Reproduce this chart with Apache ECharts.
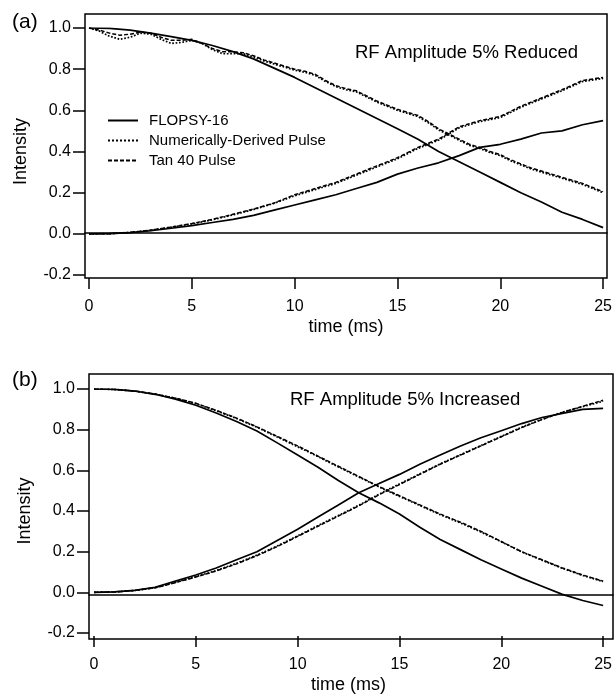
<!DOCTYPE html>
<html>
<head>
<meta charset="utf-8">
<script src="https://cdn.jsdelivr.net/npm/echarts@6/dist/echarts.min.js"></script>
<style>html,body{margin:0;padding:0;background:#fff}#c{width:615px;height:695px}</style>
</head>
<body>
<div id="c"></div>
<script>
// time axes (ms)
const t1 = [0,1,2,3,4,5,6,7,8,9,10,11,12,13,14,15,16,17,18,19,20,21,22,23,24,25];
const tHalf = [0,0.5,1,1.5,2,2.5,3,3.5,4,4.5,5,5.5,6,6.5,7,7.5,8,8.5,9,9.5,10,10.5,11,11.5,12,12.5,13,13.5,14,14.5,15,15.5,16,16.5,17,17.5,18,18.5,19,19.5,20,20.5,21,21.5,22,22.5,23,23.5,24,24.5,25];

// Panel (a): RF amplitude 5% reduced
const aFlopsyDecay = [1.0,0.998,0.99,0.975,0.958,0.94,0.915,0.885,0.85,0.805,0.76,0.71,0.66,0.61,0.56,0.51,0.46,0.40,0.35,0.30,0.25,0.20,0.155,0.105,0.07,0.03];
const aFlopsyRise  = [0,0.001,0.006,0.015,0.027,0.04,0.055,0.07,0.09,0.115,0.14,0.165,0.19,0.22,0.25,0.29,0.32,0.345,0.38,0.42,0.435,0.46,0.49,0.50,0.53,0.55];
const aNumDecay = [1.0,0.985,0.96,0.945,0.955,0.975,0.97,0.945,0.925,0.93,0.94,0.925,0.895,0.875,0.875,0.875,0.86,0.84,0.825,0.81,0.795,0.785,0.77,0.74,0.715,0.70,0.69,0.665,0.64,0.62,0.60,0.585,0.57,0.54,0.505,0.48,0.455,0.43,0.415,0.395,0.38,0.355,0.335,0.315,0.30,0.285,0.27,0.255,0.24,0.22,0.20];
const aTanDecay = [1.0,0.99,0.975,0.965,0.97,0.98,0.975,0.955,0.94,0.94,0.945,0.925,0.90,0.885,0.885,0.88,0.865,0.845,0.83,0.815,0.80,0.79,0.775,0.745,0.72,0.705,0.695,0.67,0.645,0.625,0.605,0.59,0.575,0.545,0.51,0.485,0.46,0.435,0.42,0.40,0.385,0.36,0.34,0.32,0.305,0.29,0.275,0.26,0.245,0.225,0.205];
const aNumRise = [0,0.001,0.007,0.017,0.032,0.048,0.068,0.092,0.118,0.148,0.185,0.215,0.245,0.285,0.325,0.365,0.415,0.455,0.515,0.545,0.565,0.615,0.655,0.695,0.74,0.755];
const aTanRise = [0,0.001,0.007,0.018,0.033,0.05,0.07,0.095,0.12,0.15,0.19,0.22,0.25,0.29,0.33,0.37,0.42,0.46,0.52,0.55,0.57,0.62,0.66,0.70,0.745,0.76];

// Panel (b): RF amplitude 5% increased
const bFlopsyDecay = [1.0,0.998,0.99,0.974,0.95,0.92,0.882,0.84,0.793,0.735,0.675,0.615,0.55,0.49,0.44,0.385,0.32,0.26,0.21,0.16,0.115,0.07,0.03,-0.01,-0.04,-0.065];
const bFlopsyRise  = [0,0.002,0.01,0.025,0.055,0.085,0.12,0.16,0.20,0.255,0.31,0.37,0.43,0.49,0.535,0.58,0.63,0.675,0.72,0.76,0.795,0.83,0.86,0.88,0.90,0.905];
const bNumDecay = [1.0,0.998,0.99,0.975,0.954,0.928,0.893,0.855,0.812,0.764,0.716,0.667,0.617,0.567,0.518,0.472,0.427,0.382,0.341,0.297,0.248,0.199,0.158,0.118,0.083,0.053];
const bTanDecay = [1.0,0.998,0.99,0.975,0.955,0.93,0.895,0.857,0.814,0.767,0.72,0.67,0.62,0.57,0.52,0.475,0.43,0.385,0.345,0.30,0.25,0.20,0.16,0.12,0.085,0.055];
const bNumRise = [0,0.002,0.009,0.023,0.049,0.077,0.107,0.143,0.183,0.228,0.278,0.328,0.378,0.428,0.483,0.533,0.583,0.632,0.677,0.722,0.767,0.812,0.851,0.886,0.913,0.94];
const bTanRise = [0,0.002,0.009,0.022,0.048,0.075,0.105,0.14,0.18,0.225,0.275,0.325,0.375,0.425,0.48,0.53,0.58,0.63,0.675,0.72,0.765,0.81,0.85,0.885,0.915,0.945];

const xTicks = {min: 0, max: 25, interval: 5};
const yTicks = {min: -0.2, max: 1.0, interval: 0.2};

const FONT = "'Liberation Sans', Arial, sans-serif";
const zip = (xs, ys) => xs.map((x, i) => [x, ys[i]]);

const STY = {
  'FLOPSY-16': {type: 'solid', width: 1.7},
  'Numerically-Derived Pulse': {type: 'dotted', width: 1.7},
  'Tan 40 Pulse': {type: [4, 2], width: 1.5}
};
function line(name, xs, ys, axis) {
  return {
    name, type: 'line', xAxisIndex: axis, yAxisIndex: axis,
    data: zip(xs, ys), symbol: 'none', showSymbol: false, smooth: false,
    lineStyle: Object.assign({color: '#000'}, STY[name]),
    itemStyle: {color: '#000'}, animation: false, z: 3
  };
}

function boxX(grid) {
  return {gridIndex: grid, type: 'value', min: -0.2, max: 25.1,
    axisLine: {show: true, onZero: true, lineStyle: {color: '#000', width: 1.5}},
    axisTick: {show: false}, axisLabel: {show: false}, splitLine: {show: false}};
}
function boxY(grid, mn, mx) {
  return {gridIndex: grid, type: 'value', min: mn, max: mx,
    axisLine: {show: false}, axisTick: {show: false}, axisLabel: {show: false}, splitLine: {show: false}};
}
function dataX(grid) {
  return Object.assign({gridIndex: grid, type: 'value', offset: 3,
    name: 'time (ms)', nameLocation: 'middle', nameGap: 40,
    nameTextStyle: {fontSize: 18, color: '#000', fontFamily: FONT},
    axisLine: {show: false, onZero: false},
    axisTick: {show: true, length: 11, lineStyle: {color: '#000', width: 1.5}},
    axisLabel: {fontSize: 16, color: '#000', margin: 21, fontFamily: FONT},
    splitLine: {show: false}}, xTicks);
}
function dataY(grid, off) {
  return Object.assign({gridIndex: grid, type: 'value', offset: off,
    name: 'Intensity', nameLocation: 'middle', nameGap: 55,
    nameTextStyle: {fontSize: 18, color: '#000', fontFamily: FONT},
    axisLine: {show: false, onZero: false},
    axisTick: {show: true, length: 12, lineStyle: {color: '#000', width: 1.5}},
    axisLabel: {fontSize: 16, color: '#000', margin: 14, fontFamily: FONT,
      formatter: v => (Math.abs(v) < 1e-9 ? 0 : v).toFixed(1)},
    splitLine: {show: false}}, yTicks);
}

const chart = echarts.init(document.getElementById('c'), null, {renderer: 'canvas'});
chart.setOption({
  animation: false,
  backgroundColor: '#fff',
  textStyle: {fontFamily: FONT, color: '#000'},
  title: [
    {text: '(a)', left: 12, top: 12, padding: 0, textStyle: {fontSize: 21, fontWeight: 'normal', color: '#000', fontFamily: FONT}},
    {text: '(b)', left: 12, top: 370, padding: 0, textStyle: {fontSize: 21, fontWeight: 'normal', color: '#000', fontFamily: FONT}},
    {text: 'RF Amplitude 5% Reduced', left: 355, top: 43, padding: 0, textStyle: {fontSize: 18.5, fontWeight: 'normal', color: '#000', fontFamily: FONT}},
    {text: 'RF Amplitude 5% Increased', left: 290, top: 390, padding: 0, textStyle: {fontSize: 18.5, fontWeight: 'normal', color: '#000', fontFamily: FONT}}
  ],
  legend: {
    data: ['FLOPSY-16', 'Numerically-Derived Pulse', 'Tan 40 Pulse'],
    orient: 'vertical', left: 107, top: 113, padding: 0,
    itemWidth: 30, itemHeight: 14, itemGap: 5, selectedMode: false,
    itemStyle: {opacity: 0},
    textStyle: {fontSize: 15, color: '#000', fontFamily: FONT, padding: [0, 0, 0, 6]}
  },
  grid: [
    {left: 85, right: 8, top: 14, bottom: 417, show: true, borderColor: '#000', borderWidth: 1.5, backgroundColor: 'transparent'},
    {left: 89, right: 10, top: 28, bottom: 420},
    {left: 89, right: 2, top: 374, bottom: 56, show: true, borderColor: '#000', borderWidth: 1.5, backgroundColor: 'transparent'},
    {left: 94, right: 5, top: 389, bottom: 59}
  ],
  xAxis: [boxX(0), dataX(1), boxX(2), dataX(3)],
  yAxis: [boxY(0, -0.219, 1.064), dataY(1, 4), boxY(2, -0.215, 1.073), dataY(3, 5)],
  series: [
    line('FLOPSY-16', t1, aFlopsyDecay, 1),
    line('FLOPSY-16', t1, aFlopsyRise, 1),
    line('Numerically-Derived Pulse', tHalf, aNumDecay, 1),
    line('Numerically-Derived Pulse', t1, aNumRise, 1),
    line('Tan 40 Pulse', tHalf, aTanDecay, 1),
    line('Tan 40 Pulse', t1, aTanRise, 1),
    line('FLOPSY-16', t1, bFlopsyDecay, 3),
    line('FLOPSY-16', t1, bFlopsyRise, 3),
    line('Numerically-Derived Pulse', t1, bNumDecay, 3),
    line('Numerically-Derived Pulse', t1, bNumRise, 3),
    line('Tan 40 Pulse', t1, bTanDecay, 3),
    line('Tan 40 Pulse', t1, bTanRise, 3)
  ]
});
</script>
</body>
</html>
